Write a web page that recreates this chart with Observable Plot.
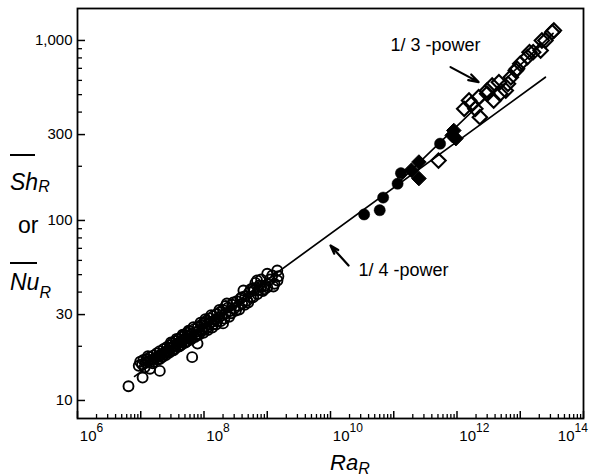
<!DOCTYPE html>
<html><head><meta charset="utf-8">
<script src="https://cdn.jsdelivr.net/npm/d3@7"></script>
<script src="https://cdn.jsdelivr.net/npm/@observablehq/plot@0.6"></script>
<style>body{margin:0;background:#fff}</style>
</head><body><div id="chart"></div>
<script>
// Data: [Ra_R, Sh_R or Nu_R]
const openCircles = [[6.4e6,12.0],[9.3e6,15.6],[9.8e6,16.4],[1.05e7,15.9],[1.07e7,13.4],[1.1e7,16.8],[1.15e7,15.3],[1.2e7,16.2],[1.25e7,17.0],[1.3e7,16.5],[1.3e7,17.6],[1.4e7,15.0],[1.4e7,17.4],[1.5e7,16.8],[1.55e7,16.1],[1.6e7,17.8],[1.6e7,16.4],[1.7e7,17.2],[1.8e7,18.3],[1.85e7,16.9],[1.9e7,17.6],[2.0e7,14.6],[2.0e7,18.8],[2.0e7,17.0],[2.1e7,18.0],[2.2e7,17.4],[2.3e7,19.3],[2.3e7,18.0],[2.4e7,18.6],[2.5e7,17.9],[2.6e7,19.8],[2.6e7,18.5],[2.7e7,19.0],[2.8e7,18.4],[2.9e7,20.3],[3.0e7,19.6],[3.0e7,21.0],[3.1e7,18.9],[3.2e7,20.9],[3.3e7,19.0],[3.4e7,20.2],[3.5e7,19.4],[3.6e7,21.4],[3.7e7,22.0],[3.8e7,20.6],[3.9e7,19.9],[4.0e7,22.0],[4.1e7,20.0],[4.2e7,21.2],[4.4e7,20.4],[4.5e7,22.6],[4.6e7,23.2],[4.7e7,21.6],[4.9e7,20.9],[5.0e7,23.2],[5.1e7,21.0],[5.3e7,22.2],[5.4e7,21.3],[5.5e7,23.8],[5.7e7,24.4],[5.8e7,22.8],[6.0e7,24.2],[6.2e7,21.8],[6.3e7,22.3],[6.5e7,17.4],[6.5e7,23.4],[6.8e7,25.5],[7.0e7,24.9],[7.2e7,22.5],[7.5e7,24.0],[7.7e7,23.0],[7.9e7,20.7],[8.0e7,25.6],[8.3e7,23.2],[8.5e7,24.6],[8.8e7,27.0],[9.0e7,26.3],[9.2e7,24.3],[9.5e7,25.0],[9.8e7,23.8],[1.0e8,27.0],[1.05e8,25.8],[1.05e8,28.3],[1.1e8,27.8],[1.1e8,25.2],[1.15e8,24.6],[1.2e8,26.5],[1.25e8,28.6],[1.3e8,27.2],[1.3e8,29.8],[1.35e8,25.4],[1.4e8,29.4],[1.4e8,26.5],[1.5e8,28.0],[1.55e8,26.4],[1.6e8,30.2],[1.6e8,27.5],[1.7e8,28.8],[1.75e8,31.8],[1.8e8,31.0],[1.85e8,27.6],[1.9e8,29.6],[2.0e8,26.8],[2.0e8,31.8],[2.1e8,28.5],[2.2e8,30.4],[2.2e8,33.5],[2.3e8,34.6],[2.4e8,32.8],[2.5e8,29.2],[2.6e8,31.4],[2.7e8,30.5],[2.8e8,34.0],[2.9e8,35.0],[3.0e8,32.4],[3.2e8,31.6],[3.3e8,35.6],[3.5e8,33.6],[3.6e8,32.0],[3.8e8,37.0],[4.0e8,34.6],[4.0e8,37.5],[4.2e8,40.8],[4.4e8,34.0],[4.5e8,38.0],[4.8e8,35.9],[5.0e8,35.0],[5.2e8,40.0],[5.5e8,37.5],[5.5e8,41.5],[6.0e8,42.0],[6.0e8,37.5],[6.2e8,40.8],[6.5e8,45.0],[6.9e8,46.4],[7.0e8,39.0],[7.2e8,41.0],[7.5e8,43.5],[8.0e8,43.0],[8.0e8,47.0],[8.5e8,40.5],[9.0e8,41.5],[9.3e8,43.5],[1.0e9,50.6],[1.0e9,42.5],[1.1e9,47.0],[1.2e9,49.5],[1.25e9,43.0],[1.3e9,44.5],[1.44e9,52.7],[1.45e9,46.4],[1.5e9,49.0]];
const filledCircles = [[3.4e10,108],[6.0e10,114],[6.8e10,134],[1.15e11,160],[1.3e11,183],[5.4e11,267]];
const filledDiamonds = [[1.9e11,190],[2.5e11,211],[2.5e11,171],[8.4e11,297],[8.9e11,316],[9.6e11,285]];
const openDiamonds = [[5.1e11,215],[1.3e12,417],[1.55e12,464],[1.7e12,445],[1.95e12,417],[2.2e12,484],[2.3e12,375],[3.0e12,506],[3.0e12,527],[3.6e12,562],[3.8e12,464],[4.6e12,586],[4.8e12,506],[5.9e12,527],[6.4e12,574],[7.1e12,625],[8.5e12,681],[8.9e12,697],[1.0e13,742],[1.3e13,808],[1.4e13,861],[1.6e13,861],[2.1e13,880],[2.2e13,1000],[2.5e13,1000],[3.2e13,1112],[3.4e13,1136]];
const quarterPowerLine = [[8e6,13.6],[2.5e13,625]];
const thirdPowerLine = [[1e11,153],[3.3e13,1095]];
const annotations = [
  {text:"1/ 3 -power", x:8.9e10, y:938, x1:7.9e11, y1:711, x2:2.2e12, y2:587},
  {text:"1/ 4 -power", x:2.77e10, y:52.7, x1:1.93e10, y1:56.2, x2:1.0e10, y2:72.6}
];
// Axes
const xDecades = [1e6,1e7,1e8,1e9,1e10,1e11,1e12,1e13,1e14];
const xLabelTicks = [1e6,1e8,1e10,1e12,1e14];
const xLabelExps = ["6","8","10","12","14"];
const yLabelTicks = [10,30,100,300,1000];
const yMinorTicks = [20,40,50,60,70,80,90,200,400,500,600,700,800,900];
const xMinorTicks = xDecades.slice(0,-1).flatMap(d => [2,3,4,5,6,7,8,9].map(k => k*d));

const font = "Liberation Sans, Arial, Helvetica, sans-serif";
const xLab = xLabelTicks.map((v,i) => ({v, e: xLabelExps[i], last: i === xLabelTicks.length-1}));

const plot = Plot.plot({
  width: 592, height: 476,
  marginTop: 8, marginRight: 9, marginBottom: 58, marginLeft: 77,
  style: {fontFamily: font, background: "white", color: "black"},
  x: {type: "log", domain: [1e6, 1e14], label: null},
  y: {type: "log", domain: [7.94, 1505], label: null},
  marks: [
    Plot.axisX(xMinorTicks, {tickSize: -4, tickFormat: () => "", strokeWidth: 1.3, label: null}),
    Plot.axisX(xDecades, {tickSize: -7, tickFormat: () => "", strokeWidth: 1.5, label: null}),
    Plot.axisY(yMinorTicks, {tickSize: -5, tickFormat: () => "", strokeWidth: 1.3, label: null}),
    Plot.axisY(yLabelTicks, {tickSize: -8, tickFormat: () => "", strokeWidth: 1.5, label: null}),
    Plot.axisY(yLabelTicks, {tickSize: 0, tickPadding: 5, tickFormat: d3.format(","), fontSize: 15, label: null}),
    Plot.text(xLab.filter(d => !d.last), {x: "v", text: () => "10", frameAnchor: "bottom", dy: 22, dx: 19, textAnchor: "end", lineAnchor: "bottom", fontSize: 15}),
    Plot.text(xLab.filter(d => !d.last), {x: "v", text: "e", frameAnchor: "bottom", dy: 13, dx: 19, textAnchor: "start", lineAnchor: "bottom", fontSize: 12}),
    Plot.text(xLab.filter(d => d.last), {x: "v", text: () => "10", frameAnchor: "bottom", dy: 22, dx: -9, textAnchor: "end", lineAnchor: "bottom", fontSize: 15}),
    Plot.text(xLab.filter(d => d.last), {x: "v", text: "e", frameAnchor: "bottom", dy: 13, dx: -9, textAnchor: "start", lineAnchor: "bottom", fontSize: 12}),
    Plot.line(quarterPowerLine, {x: d => d[0], y: d => d[1], stroke: "black", strokeWidth: 1.7}),
    Plot.line(thirdPowerLine, {x: d => d[0], y: d => d[1], stroke: "black", strokeWidth: 1.7}),
    Plot.dot(openCircles, {x: d => d[0], y: d => d[1], r: 5, stroke: "black", fill: "none", strokeWidth: 1.9}),
    Plot.dot(filledCircles, {x: d => d[0], y: d => d[1], r: 5.6, fill: "black", stroke: "black", strokeWidth: 0.5}),
    Plot.dot(filledDiamonds, {x: d => d[0], y: d => d[1], r: 6.6, symbol: "diamond2", fill: "black", stroke: "black", strokeWidth: 1}),
    Plot.dot(openDiamonds, {x: d => d[0], y: d => d[1], r: 6.5, symbol: "diamond2", fill: "none", stroke: "black", strokeWidth: 2.1}),
    Plot.arrow(annotations, {x1: "x1", y1: "y1", x2: "x2", y2: "y2", stroke: "black", strokeWidth: 2.2, headLength: 9, headAngle: 35}),
    Plot.text(annotations, {x: "x", y: "y", text: "text", textAnchor: "start", lineAnchor: "middle", fontSize: 18}),
    Plot.frame({stroke: "black", strokeWidth: 1.8})
  ]
});

const svg = d3.select(plot);
const g = svg.append("g").attr("font-family", font).attr("fill", "black").attr("text-anchor", "start");
const sh = g.append("text").attr("x", 10).attr("y", 190);
sh.append("tspan").attr("font-style", "italic").attr("font-size", 23).text("Sh");
sh.append("tspan").attr("font-style", "italic").attr("font-size", 16).attr("dy", 2).text("R");
g.append("line").attr("x1", 10).attr("x2", 35).attr("y1", 155).attr("y2", 155).attr("stroke", "black").attr("stroke-width", 2);
g.append("text").attr("x", 18).attr("y", 233).attr("font-size", 23).text("or");
const nu = g.append("text").attr("x", 10).attr("y", 290);
nu.append("tspan").attr("font-style", "italic").attr("font-size", 23).text("Nu");
nu.append("tspan").attr("font-style", "italic").attr("font-size", 16).attr("dy", 8).text("R");
g.append("line").attr("x1", 10).attr("x2", 37).attr("y1", 263).attr("y2", 263).attr("stroke", "black").attr("stroke-width", 2);
const ra = g.append("text").attr("x", 330).attr("y", 470);
ra.append("tspan").attr("font-style", "italic").attr("font-size", 22).text("Ra");
ra.append("tspan").attr("font-style", "italic").attr("font-size", 16).attr("dy", 4).text("R");

document.getElementById("chart").appendChild(plot);
</script>
</body></html>
